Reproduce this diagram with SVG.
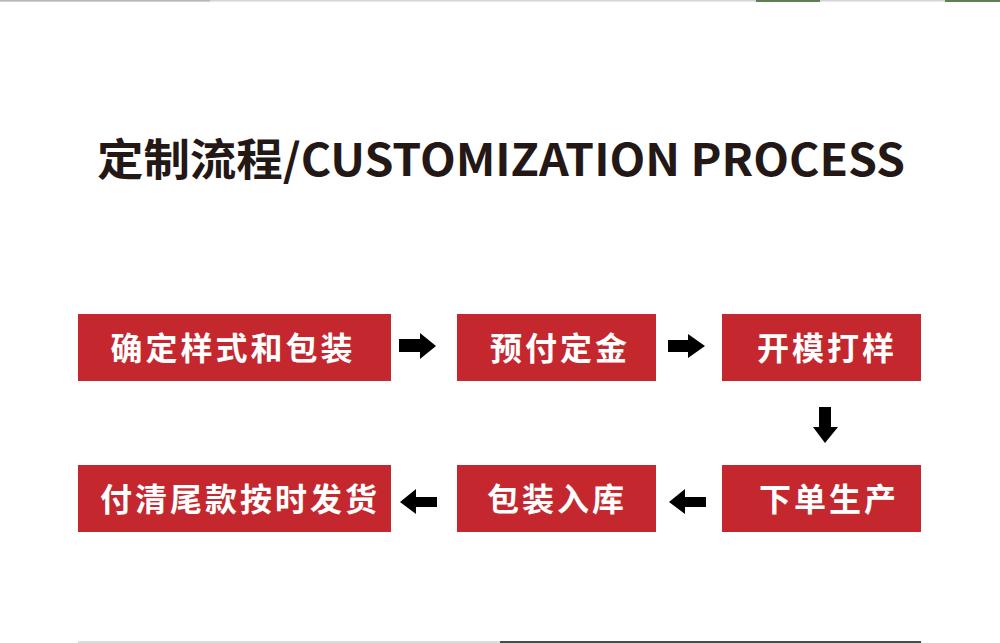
<svg xmlns="http://www.w3.org/2000/svg" width="1000" height="643" viewBox="0 0 1000 643">
<defs>
<style>
.box{fill:#c4282e}
.lbl{font-family:"Noto Sans CJK SC","Noto Sans",sans-serif;font-weight:700;font-size:32px;fill:#ffffff;text-anchor:middle;letter-spacing:3px}
.title{font-family:"Noto Sans CJK SC","Noto Sans",sans-serif;font-weight:700;font-size:44px;fill:#231815}
.arr{fill:#000000}
</style>
</defs>
<rect width="1000" height="643" fill="#ffffff"/>
<g id="edges-decor">
<rect x="0" y="0" width="1000" height="1.5" fill="#d4d4d8"/>
<rect x="0" y="0" width="210" height="1.5" fill="#b8b8b8"/>
<rect x="756" y="0" width="64" height="2" fill="#5e7f55"/>
<rect x="945" y="0" width="55" height="2" fill="#5e7f55"/>
<rect x="78" y="641" width="422" height="2" fill="#dcdcdc"/>
<rect x="500" y="641" width="421" height="2" fill="#4a4a4a"/>
</g>
<g id="title">
<text class="title" x="501" y="176" text-anchor="middle" textLength="808" lengthAdjust="spacingAndGlyphs">定制流程/CUSTOMIZATION PROCESS</text>
</g>
<g id="n1"><rect class="box" x="78" y="314" width="313" height="67"/><text class="lbl" x="233" y="360">确定样式和包装</text></g>
<g id="n2"><rect class="box" x="457" y="314" width="199" height="67"/><text class="lbl" x="560" y="360">预付定金</text></g>
<g id="n3"><rect class="box" x="722" y="314" width="199" height="67"/><text class="lbl" x="827" y="360">开模打样</text></g>
<g id="n4"><rect class="box" x="722" y="465" width="199" height="67"/><text class="lbl" x="829" y="511">下单生产</text></g>
<g id="n5"><rect class="box" x="457" y="465" width="199" height="67"/><text class="lbl" x="557" y="511">包装入库</text></g>
<g id="n6"><rect class="box" x="78" y="465" width="313" height="67"/><text class="lbl" x="240" y="511">付清尾款按时发货</text></g>
<g id="connectors">
<polygon class="arr" points="399,339 420,339 420,333 436,346 420,359 420,352 399,352"/>
<polygon class="arr" points="668,340 688,340 688,334 705,346 688,358 688,352 668,352"/>
<polygon class="arr" points="819,407 831,407 831,427 838,427 825,443 813,427 819,427"/>
<polygon class="arr" points="706,497 685,497 685,489 669,502 685,514 685,507 706,507"/>
<polygon class="arr" points="437,497 416,497 416,489 400,502 416,514 416,507 437,507"/>
</g>
</svg>
